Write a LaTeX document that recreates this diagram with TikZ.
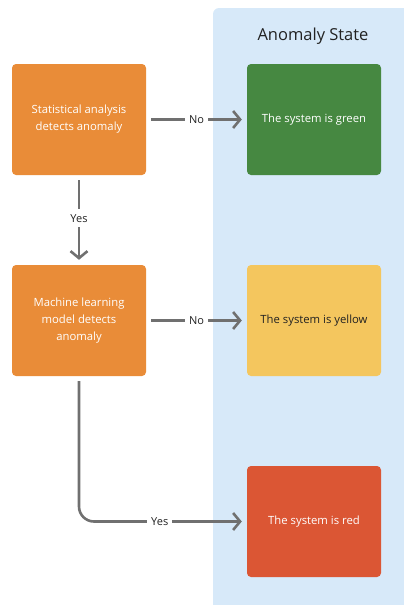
\documentclass[tikz,border=0pt]{standalone}
\usepackage{fontspec}
\setmainfont{Open Sans}
\usetikzlibrary{arrows.meta}
\definecolor{panelblue}{HTML}{D7E9F9}
\definecolor{boxorange}{HTML}{E98C38}
\definecolor{boxgreen}{HTML}{468841}
\definecolor{boxyellow}{HTML}{F4C65E}
\definecolor{boxred}{HTML}{DB5634}
\definecolor{linegray}{HTML}{707070}
\definecolor{textdark}{HTML}{222222}
\tikzset{
  stepbox/.style={rectangle, rounded corners=4pt, minimum width=134pt, minimum height=111pt,
    align=center, font=\fontsize{11.3}{17}\selectfont, text=white, inner sep=0pt},
  flowarrow/.style={draw=linegray, line width=2.6pt, -{Straight Barb[length=7pt,width=17pt]}},
  lbl/.style={sharp corners, fill=white, text=textdark, font=\fontsize{11}{13}\selectfont, inner xsep=4pt, inner ysep=2pt},
}
\begin{document}
\begin{tikzpicture}[x=1pt,y=-1pt]
\useasboundingbox (0,0) rectangle (404,605);
\fill[panelblue, rounded corners=6pt] (213,8) rectangle (430,630);
\node[font=\fontsize{16.5}{19}\selectfont, text=textdark] (title) at (313,36) {Anomaly State};

\node[stepbox, fill=boxorange] (stat) at (79,119.5) {Statistical analysis\\detects anomaly};
\node[stepbox, fill=boxgreen] (green) at (314,119.5) {The system is green};
\node[stepbox, fill=boxorange] (ml) at (79,320.5) {Machine learning\\model detects\\anomaly};
\node[stepbox, fill=boxyellow, text=textdark] (yellow) at (314,320.5) {The system is yellow};
\node[stepbox, fill=boxred] (red) at (314,521.5) {The system is red};

\draw[flowarrow] ([xshift=5pt]stat.east) -- node[lbl, pos=0.5]{No} ([xshift=-5pt]green.west);
\draw[flowarrow] ([xshift=5pt]ml.east) -- node[lbl, pos=0.5]{No} ([xshift=-5pt]yellow.west);
\draw[flowarrow] ([yshift=-5pt]stat.south) -- node[lbl, pos=0.48, inner ysep=5pt]{Yes} ([yshift=5pt]ml.north);
\draw[flowarrow, rounded corners=15pt] ([yshift=-5pt]ml.south) |- node[lbl, pos=0.748]{Yes} ([xshift=-5pt]red.west);
\end{tikzpicture}
\end{document}
